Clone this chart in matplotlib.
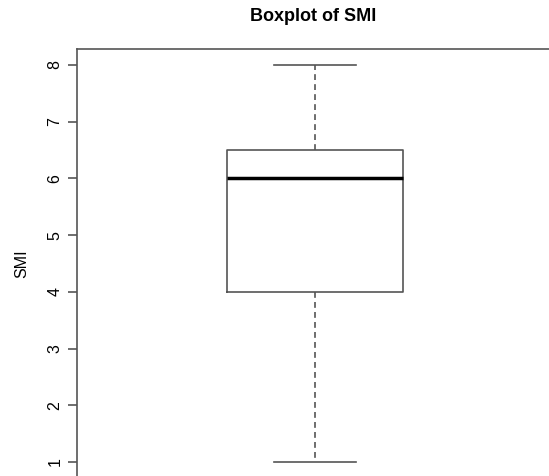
import matplotlib
matplotlib.use("Agg")
import matplotlib.pyplot as plt

plt.rcParams['font.family'] = ['Liberation Sans', 'DejaVu Sans']

# five-number summary of SMI
label = "SMI"
whisker_low = 1
q1 = 4
median = 6
q3 = 6.5
whisker_high = 8
y_ticks = [1, 2, 3, 4, 5, 6, 7, 8]

W, H = 549, 476
fig = plt.figure(figsize=(W / 100, H / 100), dpi=100)

# axes placed in pixels, the frame runs past the right and bottom edge
left, right, top, bottom = 77, 553, 49.1, 477.9
ax = fig.add_axes([left / W, (H - bottom) / H, (right - left) / W, (bottom - top) / H])

stats = [{'whislo': whisker_low, 'q1': q1, 'med': median, 'q3': q3,
          'whishi': whisker_high, 'fliers': [], 'label': label}]
line_col = '#555555'
ax.bxp(stats, positions=[1], widths=0.37, showfliers=False,
       boxprops=dict(color=line_col, linewidth=1.2),
       whiskerprops=dict(color=line_col, linewidth=1.2, linestyle=(0, (3.5, 2.5))),
       capprops=dict(color=line_col, linewidth=1.2),
       medianprops=dict(color='black', linewidth=2.5),
       capwidths=0.174)

ax.set_xlim(0.5, 1.5)
ax.set_ylim(0.72, 8.28)
ax.set_xticks([])
ax.set_yticks(y_ticks)
ax.set_yticklabels([str(t) for t in y_ticks], rotation=90, va='center', fontsize=11.5)
ax.tick_params(axis='y', length=6.5, width=1.2, color=line_col, pad=4)
for s in ax.spines.values():
    s.set_color(line_col)
    s.set_linewidth(1.2)

fig.text(21.5 / W, 1 - 264 / H, label, rotation=90, ha='center', va='center', fontsize=11.5)
fig.text(313 / W, 1 - 16.5 / H, "Boxplot of SMI", ha='center', va='center',
         fontsize=13, fontweight='bold')

fig.savefig("out.png", dpi=100)
